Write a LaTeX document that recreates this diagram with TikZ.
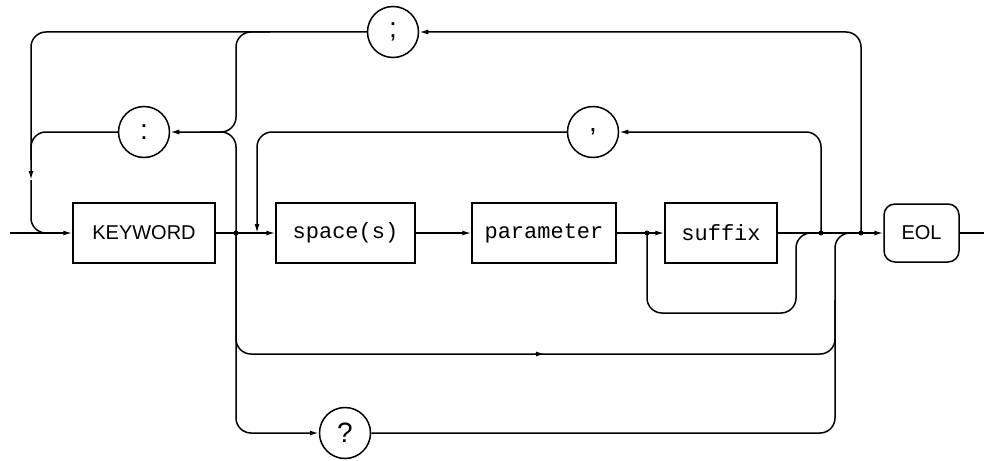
\documentclass[tikz,border=0pt]{standalone}
\usepackage{fontspec}
\setmainfont{Liberation Sans}
\setmonofont{Liberation Mono}
\usetikzlibrary{arrows.meta}
\begin{document}
\begin{tikzpicture}[x=1pt,y=-1pt,line width=1.5pt,
  >={Latex[length=9pt,width=5pt]},
  rc/.style={rounded corners=15pt},
  boxnode/.style={draw,rectangle,minimum height=60pt,inner sep=0pt},
  capbox/.style={boxnode,font=\fontsize{20}{22}\selectfont},
  lowbox/.style={boxnode,font=\ttfamily\fontsize{22}{24}\selectfont},
  termnode/.style={draw,circle,minimum size=51pt,inner sep=0pt,font=\fontsize{28}{30}\selectfont},
  dot/.style={fill,radius=2.5pt}]
\useasboundingbox (0,0) rectangle (984,460);
% nodes
\coordinate (start) at (10,233);
\coordinate (fin) at (984,233);
\node[capbox,minimum width=142pt] (kw) at (144,233) {KEYWORD};
\node[lowbox,minimum width=139pt] (sp) at (345.5,233) {space(s)};
\node[lowbox,minimum width=144pt] (par) at (544,233) {parameter};
\node[lowbox,minimum width=112pt] (suf) at (721,233) {suffix};
\node[capbox,rounded corners=11pt,minimum width=75pt,minimum height=58pt] (eol) at (921.5,233) {EOL};
\node[termnode] (colon) at (144,132) {:};
\node[termnode] (semi) at (393,32) {;};
\node[termnode] (comma) at (593,132) {,};
\node[termnode] (qm) at (345,433) {?};
\coordinate (j1) at (236,233);
\coordinate (j2) at (647,233);
\coordinate (j3) at (821,233);
\coordinate (j4) at (861,233);
\coordinate (la) at (31,180);
% main line
\draw[->] (start) -- (kw.west);
\draw[->] (kw.east) -- (sp.west);
\draw[->] (sp.east) -- (par.west);
\draw[->] (par.east) -- (suf.west);
\draw[->] (suf.east) -- (eol.west);
\draw (eol.east) -- (fin);
% semicolon loop
\draw[->,rc] (j4) -- (861,32) -- (semi.east);
\draw[->,rc] (semi.west) -- (31,32) -- (la);
\draw[rc] (la) -- (31,233) -- (65,233);
% colon loop
\draw[->,rc] (j1) -- (236,132) -- (colon.east);
\draw[rc] (270,32) -- (236,32) -- (236,132) -- (200,132);
\draw[rc] (colon.west) -- (31,132) -- (31,160);
% comma loop
\draw[->,rc] (j3) -- (821,132) -- (comma.east);
\draw[->,rc] (comma.west) -- (257,132) -- (257,233);
% suffix bypass
\draw[rc] (j2) -- (647,313) -- (796,313) -- (796,233) -- (j3);
% full bypass
\draw[->,rc] (j1) -- (236,354) -- (545,354);
\draw[rc] (535,354) -- (835,354) -- (835,233) -- (j4);
% query
\draw[->,rc] (j1) -- (236,433) -- (qm.west);
\draw[rc] (qm.east) -- (835,433) -- (835,300);
% dots
\fill (j1) circle[dot];
\fill (j2) circle[dot];
\fill (j3) circle[dot];
\fill (j4) circle[dot];
\end{tikzpicture}
\end{document}
